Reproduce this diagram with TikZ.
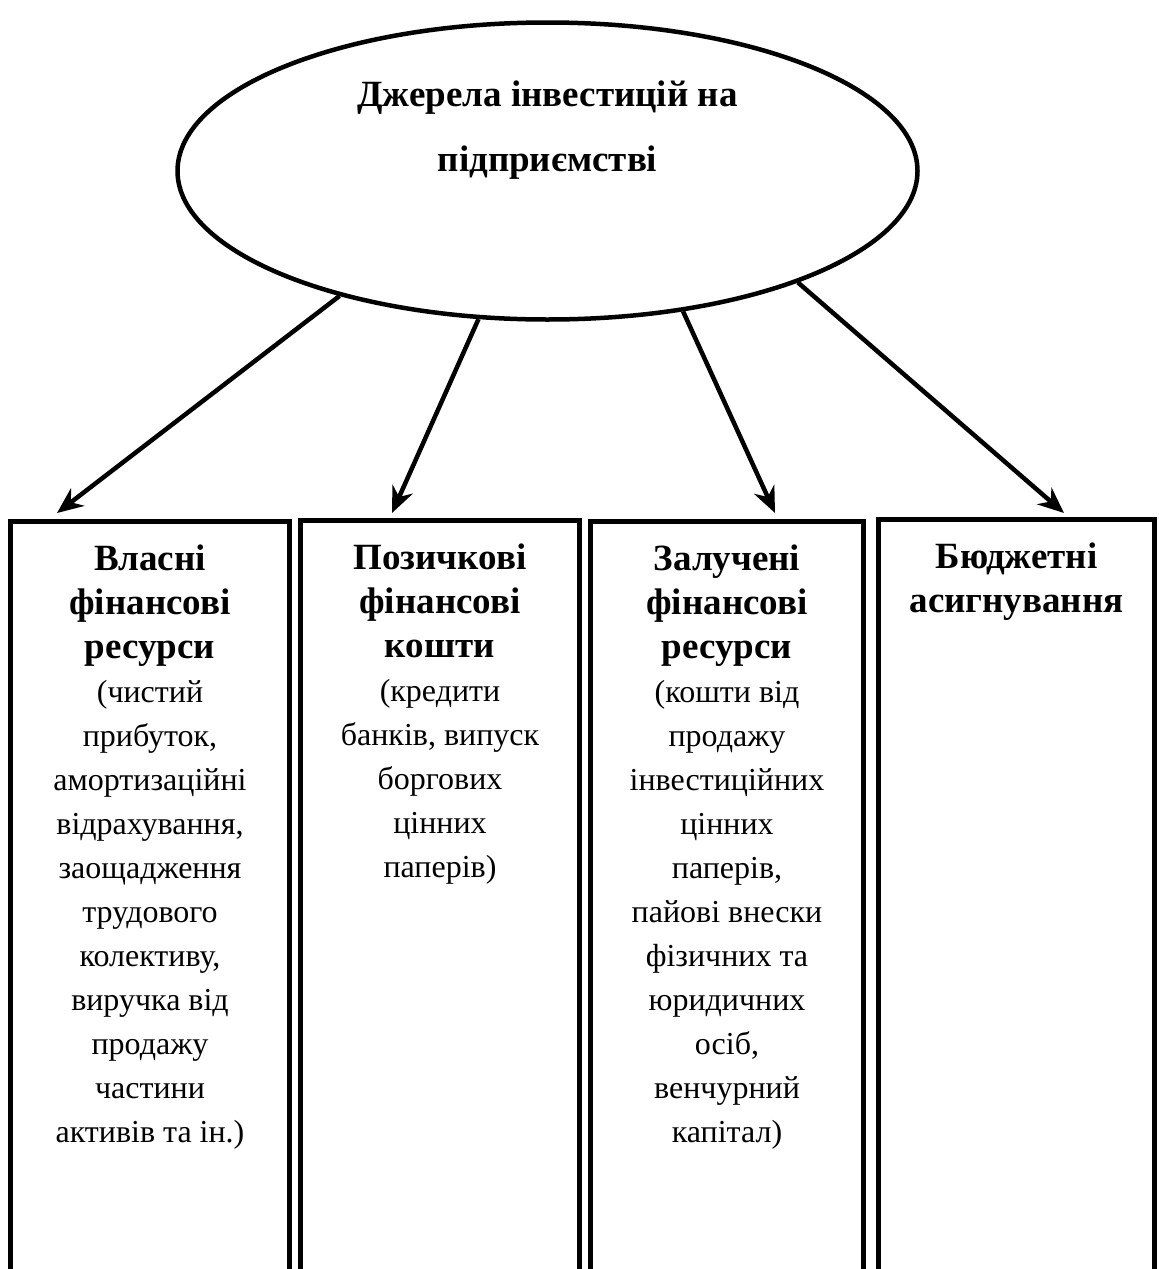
\documentclass[tikz,border=0pt]{standalone}
\usepackage{fontspec}
\setmainfont{Liberation Serif}
\usetikzlibrary{shapes.geometric,arrows.meta}
\newcommand{\hd}[1]{{\fontsize{37}{44}\selectfont\bfseries #1}}

\begin{document}
\begin{tikzpicture}[>={Stealth[length=26pt,width=22pt]},x=1pt,y=1pt,
  every node/.style={font=\fontsize{32}{44}\selectfont},
  source/.style={ellipse,draw,line width=4.5pt,minimum width=740pt,minimum height=297pt,inner sep=0pt},
  kind/.style={draw,line width=5pt,anchor=north,minimum height=800pt,inner sep=0pt},
  inside/.style={label={[anchor=north,yshift=-26pt,align=center,inner sep=0pt]north:#1}},
  flow/.style={->,line width=4.5pt}]
\useasboundingbox (0,0) rectangle (1159,-1269);
\clip (0,0) rectangle (1159,-1269);
% source of investments
\node[source] (src) at (547.5,-171) {};
\node[font=\fontsize{37}{65}\selectfont\bfseries,align=center] (title) at (547.5,-130)
  {Джерела інвестицій на\\підприємстві};
% four kinds of sources
\node[kind,minimum width=279pt,inside={\hd{Власні}\\\hd{фінансові}\\\hd{ресурси}\\(чистий\\прибуток,\\амортизаційні\\відрахування,\\заощадження\\трудового\\колективу,\\виручка від\\продажу\\частини\\активів та ін.)}] (own) at (150,-519) {};
\node[kind,minimum width=279pt,inside={\hd{Позичкові}\\\hd{фінансові}\\\hd{кошти}\\(кредити\\банків, випуск\\боргових\\цінних\\паперів)}] (loan) at (440,-518) {};
\node[kind,minimum width=273pt,inside={\hd{Залучені}\\\hd{фінансові}\\\hd{ресурси}\\(кошти від\\продажу\\інвестиційних\\цінних\\паперів,\\пайові внески\\фізичних та\\юридичних\\осіб,\\венчурний\\капітал)}] (drawn) at (727,-519) {};
\node[kind,minimum width=276pt,inside={\hd{Бюджетні}\\\hd{асигнування}}] (budget) at (1016.5,-517) {};
% arrow ends
\coordinate (t1) at (57,-513);
\coordinate (t2) at (392,-513);
\coordinate (t3) at (775,-513);
\coordinate (t4) at (1064,-513);
\draw[flow] (src.211) -- (t1);
\draw[flow] (src.245) -- (t2);
\draw[flow] (src.314.7) -- (t3);
\draw[flow] (src.336.4) -- (t4);
\end{tikzpicture}
\end{document}
